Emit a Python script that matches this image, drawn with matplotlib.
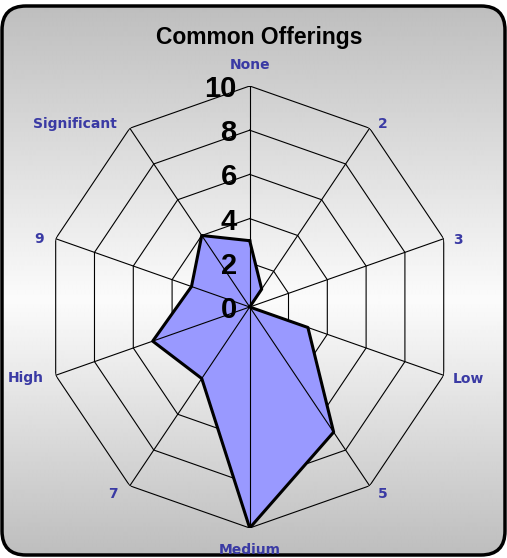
import numpy as np
import matplotlib.pyplot as plt
from matplotlib.patches import FancyBboxPatch

categories = ['None', '2', '3', 'Low', '5', 'Medium', '7', 'High', '9', 'Significant']
values = [3, 1, 0, 3, 7, 10, 4, 5, 3, 4]
rings = [2, 4, 6, 8, 10]
title = 'Common Offerings'

# label offsets (pixels) from each outer vertex
lab_off = [(0, 17, 'center'), (8, 0, 'left'), (9, -5, 'left'), (9, -8, 'left'),
           (8, -12, 'left'), (0, -26, 'center'), (-12, -12, 'right'),
           (-12, -7, 'right'), (-12, -4, 'right'), (-13, 0, 'right')]

W, H = 507, 558
fig = plt.figure(figsize=(W / 100, H / 100), dpi=100)
fig.patch.set_facecolor('white')

# background panel with vertical grey gradient and rounded border
bg = fig.add_axes([0, 0, 1, 1])
bg.set_xlim(0, W)
bg.set_ylim(H, 0)
bg.axis('off')
ys = np.arange(H)
g = np.interp(ys, [0, 300, H], [0.74, 0.985, 0.74])
grad = np.repeat(g[:, None], 2, axis=1)
im = bg.imshow(grad, cmap='gray', vmin=0, vmax=1, extent=[0, W, H, 0],
               aspect='auto', interpolation='bilinear')
box = FancyBboxPatch((2, 6), 503, 549, boxstyle='round,pad=0,rounding_size=24',
                     fc='none', ec='black', lw=2.5)
bg.add_patch(box)
im.set_clip_path(box)

fig.text(259 / W, 1 - 44 / H, title, ha='center', va='baseline',
         fontsize=16.5, fontweight='bold', family='Liberation Sans')

cx, cy, rx, ry = 249.7, 307, 204, 221
ax = fig.add_axes([(cx - rx) / W, 1 - (cy + ry) / H, 2 * rx / W, 2 * ry / H],
                  projection='polar')
ax.set_aspect('auto')
ax.set_theta_zero_location('N')
ax.set_theta_direction(-1)
ax.set_ylim(0, 10)
ax.axis('off')

n = len(categories)
ang = np.arange(n) * 2 * np.pi / n
ang_c = np.append(ang, ang[0])

for r in rings:
    ax.plot(ang_c, [r] * (n + 1), color='black', lw=0.8, zorder=1)

vals_c = np.append(values, values[0])
ax.fill(ang_c, vals_c, color='#9999ff', zorder=2)
for a in ang:
    ax.plot([a, a], [0, 10], color='black', lw=0.8, zorder=3)
ax.plot(ang_c, vals_c, color='black', lw=2.2, zorder=4)

for r in [0] + rings:
    ax.annotate(str(r), xy=(0, r), xytext=(-13, -11), textcoords='offset pixels',
                ha='right', va='baseline', fontsize=21, fontweight='bold',
                family='Liberation Sans', zorder=5, annotation_clip=False)

for a, lab, (dx, dy, ha) in zip(ang, categories, lab_off):
    ax.annotate(lab, xy=(a, 10), xytext=(dx, dy), textcoords='offset pixels',
                ha=ha, va='baseline', fontsize=10, fontweight='bold',
                color='#3a3aa4', family='DejaVu Sans', annotation_clip=False)

fig.savefig('out.png', dpi=100)
